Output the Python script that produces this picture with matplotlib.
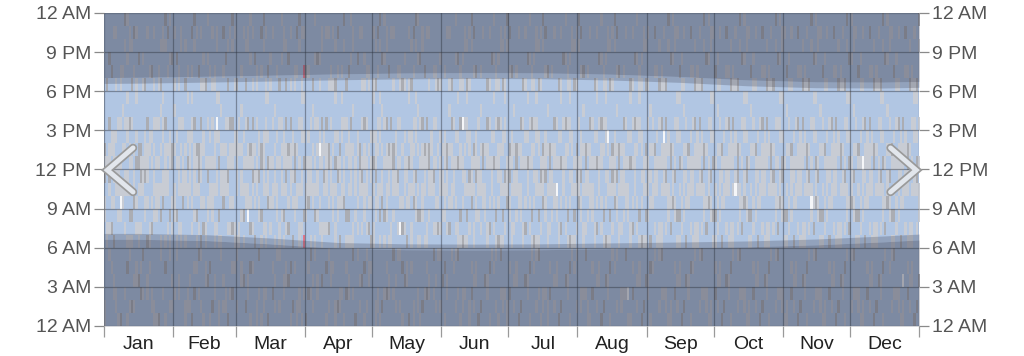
import numpy as np
import matplotlib.pyplot as plt
from matplotlib.colors import to_rgba

plt.rcParams['font.family'] = ['Liberation Sans', 'DejaVu Sans']

months = ['Jan', 'Feb', 'Mar', 'Apr', 'May', 'Jun', 'Jul', 'Aug', 'Sep', 'Oct', 'Nov', 'Dec']
month_starts = [0, 31, 59, 90, 120, 151, 181, 212, 243, 273, 304, 334, 365]
hour_ticks = [0, 3, 6, 9, 12, 15, 18, 21, 24]
hour_labels = ['12 AM', '3 AM', '6 AM', '9 AM', '12 PM', '3 PM', '6 PM', '9 PM', '12 AM']

# daylight / twilight edges (hours) read at these days of year
sun_days = [0, 15, 46, 74, 105, 135, 166, 196, 227, 258, 288, 319, 349, 365]
dawn = [6.65, 6.65, 6.55, 6.3, 5.95, 5.85, 5.83, 5.85, 5.92, 6.0, 6.07, 6.22, 6.45, 6.6]
sunrise = [7.1, 7.1, 7.0, 6.75, 6.4, 6.3, 6.28, 6.3, 6.37, 6.44, 6.52, 6.67, 6.9, 7.05]
sunset = [18.6, 18.62, 18.7, 18.78, 18.88, 18.95, 18.98, 18.96, 18.86, 18.68, 18.42, 18.27, 18.25, 18.3]
dusk = [19.05, 19.07, 19.15, 19.23, 19.33, 19.4, 19.43, 19.41, 19.31, 19.13, 18.87, 18.72, 18.7, 18.75]

# hourly cloud cover, one string per day; groups = hours 0-5, 6-11, 12-17, 18-23
# . clear, l light, m medium, d dark, w white, r rain
cloud_days = [
    # Jan
    "ll.... ..ll.m lm.... ......", "...... ll.... l..... m.....", ".....l .l..lm ll.m.. ..m...",
    "....l. .m.l.. .ll... .m....", "..ll.. m..l.l lll... ....l.", ".ll... ....ll l.l... l...l.",
    "l..... ..l.ll l..l.. ......", "m..... ..lwl. l..l.. ll....", "...... ...ll. .l..l. .l....",
    "..l... .l..ll .l.l.. ...l.m", "l...m. l...ll ..ll.l ..l..l", ".l...l l.m.l. ll.m.. ...ll.",
    ".m.... l.m... l..l.. m..l..", ".l.l.. ...mll .l.... .l..m.", "...ll. .l.l.. m.l..l l...l.",
    "...m.. ll..l. mm.... ..m...", "..m.l. .l..lm lm.... ......", "..l..m ....ll l..... l.l...",
    "...... ..ll.m lll... m.....", "..ll.. m..l.l ll.m.. ....l.", "....l. ll.... .ll... .l....",
    ".ll... .m.l.. l.l... .m....", "ll.... ..l.ll .l.l.. l...l.", "l..... ..lll. l..l.. ......",
    "m..... ...ll. l..l.. ll....", ".....l l.m.l. .l..l. m..l..", "..l... ...mll ..ll.l ...ll.",
    "l...m. l...ll ll.m.. ...l.m", "...... .l..ll .l.... .l..m.", ".l...l l.m... lll... ..l..l",
    ".l.l.. .l.l.. mm.... ..m...",
    # Feb
    "..l... ..lll. .l..l. l...l.", ".....l l.m... l.l... ..m...", "..ll.. .l..ll l..l.. ll....",
    "...... ll..l. .l.l.. ...ll.", "...... ...mll l..l.. ......", "ll.... l...ll .l.... m..l..",
    ".ll... ...ll. m.l..l .l....", ".l.l.. ....ll lll... ......", "m..... .l.l.. ..ll.l .l..m.",
    "..m.l. ..l.ll ll.m.. ...l.m", "....l. l.m.l. lm.... ....l.", "..l..m .l..lm mm.... .m....",
    ".l...l m..l.l ll.m.. l...l.", "l..... .m.l.. .ll... l.l...", "...ll. ll.... l..... m.....",
    "...m.. ..ll.m l..l.. ..l..l", "l...m. ...ll. l.l... .l....", ".m.... ..lll. l..l.. l...l.",
    "..ll.. ll..l. lll... ll....", "...... .l..ll ..lw.l ...ll.", "ll.... l.m... m.l..l ......",
    ".....l l...ll .l..l. ......", ".l.l.. ...mll .l.... .l..m.", ".ll... ....ll .l.l.. ..m...",
    "m..... .l..lm l..l.. m..l..", "..l... .l.l.. ll.m.. ....l.", "..m.l. .m.l.. ll.m.. ...l.m",
    "....l. ll.... .ll... l...l.",
    # Mar
    ".l...l l...ll lll... m.....", "...... ll.... .l.l.. ......", "...ll. ..l.ll .l..l. .l....",
    "...m.. l.m.l. l.l... ....l.", ".m.... ...ll. l..l.. m..l..", "..ll.. ..wll. ll.m.. ...ll.",
    "l...m. .m.l.. lm.... ..l..l", "....l. .l..lm ll.m.. l...l.", "...... m..l.l .l.... ..m...",
    "ll.... ....ll l..l.. ll....", "..l..m ..ll.m .ll... ......", "l..... l.m... mm.... .l..m.",
    ".ll... .l..ll lll... ...l.m", "..l... ll..l. ..ll.l l...l.", "m..... ...mll m.l..l .m....",
    "...... .l.l.. l..... l.l...", "..m.l. ...ll. l..l.. ....l.", ".l.l.. l...ll .l..l. ......",
    ".....l ..lll. l.l... .l....", ".l...l ll.... l..l.. m.....", "...... ..l.ll .l.l.. ..l..l",
    "..ll.. l.m.l. lll... ...ll.", "...ll. .l..lm ll.m.. m..l..", "...m.. .m.l.. lm.... ..m...",
    "l...m. ....ll ll.m.. l...l.", ".m.... m..l.l .ll... ......", "....l. ..ll.m mm.... ll....",
    "ll.... ...ll. .l.... .l..m.", ".ll... ll..l. l..l.. ...l.m", "l..... .l..ll ..ll.l l...l.",
    "..l... r.m... m.l..l .r..l.",
    # Apr
    "m..... ..lll. l..... .m....", "..m.l. ...mll l.l... .l....", "..l..m l...ll l..l.. ......",
    ".l.l.. ...ll. .l..l. m.....", ".....l l.m.l. l..l.. ..l..l", "..ll.. ..l.ll .l.l.. ..m...",
    "...... .l.l.. lwl... l.l...", "...m.. ll.... ll.m.. ...ll.", "...... .l..lm .ll... ......",
    "l...m. .l..ll ll.m.. ....l.", ".l...l .m.l.. mm.... l...l.", "...ll. ....ll l..l.. ll....",
    "....l. ..lll. .l.... l...l.", "ll.... ll..l. m.l..l m..l..", ".m.... ..ll.m l.l... .l..m.",
    ".ll... m..l.l lm.... ......", "..l... ...ll. ..ll.l .l....", "l..... ...mll l..l.. ...l.m",
    "..m.l. l.m... .l.l.. m.....", "..ll.. l.m.l. lll... .m....", "...... l...ll ll.m.. ..l..l",
    "..l..m ll.... .l..l. ...ll.", "m..... ..l.ll l..... ......", ".....l .l.l.. .ll... ..m...",
    ".l.l.. ....ll mm.... ....l.", "...m.. .l..lm l..l.. l...l.", "l...m. ..lll. ll.m.. l.l...",
    ".l...l .l..ll l..l.. .l....", "...ll. .m.l.. .l.... ll....", "....l. m..l.l l.l... ......",
    # May
    "...... ll..l. m.l..l l...l.", "ll.... ..ll.m lll... m..l..", ".ll... ...ll. .l.l.. .l..m.",
    "l..... l.m.l. ..ll.l ...l.m", ".m.... ...mll .l..l. ..m...", "..l... l.m... l..l.. ..l..l",
    "..m.l. ..lll. ll.m.. ...ll.", "..ll.. l...ll lm.... .m....", "...... ll.... ll.m.. ....l.",
    "..l..m ..l.ll mm.... l...l.", ".l.l.. ....ll .ll... ......", ".....l .l..lm l..l.. .l....",
    ".l...l .w.l.. l..l.. ll....", "l...m. .m.l.. .l.... m.....", "...m.. .l..ll l.l... l.l...",
    "...ll. m..l.l l..... ......", "m..... ...ll. m.l..l l...l.", "....l. ll..l. lll... m..l..",
    "ll.... ...mll .l.l.. .l..m.", "...... ..ll.m ..ll.l ...l.m", ".ll... l.m.l. .l..l. ..l..l",
    "l..... l.m... l..l.. ..m...", ".m.... ..lll. ll.m.. ...ll.", "..l... l...ll lm.... .m....",
    "..m.l. ll.... ll.m.. ....l.", "..ll.. ..l.ll mm.... l...l.", "...... ....ll .ll... ......",
    "..l..m .l..lm l..l.. .l....", ".l.l.. .l.l.. l..l.. ll....", ".....l .m.l.. .l.... m.....",
    ".l...l .l..ll l.l... l.l...",
    # Jun
    "...m.. ..l.ll .l.... ......", "l...m. ..lll. lll... .l....", "..ll.. .l..ll mm.... ....l.",
    "...... .m.l.. .l..l. l...l.", ".....l ...ll. ll.m.. m.....", "....l. ....ll l..l.. ......",
    ".l...l .l.l.. l.l... ..l..l", "..l..m ll.... m.l..l ..m...", "l..... l.m... ll.m.. ll....",
    ".ll... m..l.l l..w.. l.l...", "..l... l...ll .l.l.. ...ll.", "...... l.m.l. ..ll.l m..l..",
    "ll.... .l..lm .ll... l...l.", "..m.l. ...mll l..... ...l.m", ".l.l.. ll..l. lm.... .l..m.",
    "...ll. ..ll.m lll... .m....", "m..... ..l.ll l..l.. ......", ".m.... .l..ll .l..l. .l....",
    "...... ...ll. mm.... ....l.", "...m.. ..lll. .l.... ......", "..ll.. ll.... ll.m.. m.....",
    "l...m. .m.l.. l..l.. l...l.", ".....l ....ll l.l... ..m...", "....l. .l.l.. m.l..l ..l..l",
    ".l...l l.m... l..l.. ll....", "l..... m..l.l ll.m.. l.l...", "..l..m l...ll .l.l.. ...ll.",
    ".ll... l.m.l. .ll... m..l..", "..l... .l..lm ..ll.l l...l.", "ll.... ...mll l..... ...l.m",
    # Jul
    "..m.l. ..ll.m lm.... .l..m.", "...... ll..l. lll... .m....", ".l.l.. .l..ll .l..l. ......",
    "...ll. ..l.ll mm.... .l....", "m..... ...ll. .l.... ....l.", ".m.... ..lll. ll.m.. ......",
    "...... ll.... l..l.. m.....", "...m.. .m.l.. l.l... l...l.", "..ll.. ....ll m.l..l ..m...",
    "l...m. .l.l.. l..l.. ..l..l", ".....l l.m... ll.m.. ll....", "....l. m..l.l .l.l.. l.l...",
    ".l...l l...ll ..ll.l ...ll.", "..l..m l.m.l. .ll... m..l..", "l..... .l..lm l..... l...l.",
    ".ll... ...mll lm.... ...l.m", "..l... ..ll.m lll... .l..m.", "ll.... ll..l. .l..l. .m....",
    "..m.l. .l..ll mm.... ......", "...... ..l.ll .l.... .l....", ".l.l.. ...ll. ll.m.. ....l.",
    "...ll. ..llw. l..l.. ......", "m..... ll.... l.l... m.....", ".m.... .m.l.. m.l..l l...l.",
    "...... ....ll l..l.. ..m...", "...m.. .l.l.. ll.m.. ..l..l", "..ll.. l.m... .l.l.. ll....",
    "l...m. m..l.l ..ll.l l.l...", ".....l l...ll .ll... ...ll.", "....l. l.m.l. l..... m..l..",
    ".l...l .l..lm lm.... l...l.",
    # Aug
    "...... ...mll l..l.. ...l.m", ".ll... ..ll.m lll... .l..m.", "..l... ll..l. .l..l. .m....",
    "..l..m .l..ll mm.... ......", "ll.... ..l.ll .l.... .l....", "l..... ...ll. ll.m.. ....l.",
    "..m.l. ..lll. l..l.. ......", "...... ll.... l.l... m.....", ".l.l.. .m.l.. m.l..l l...l.",
    "...ll. ....ll l..l.. ..m...", "m..... .l.l.. ll.m.. ..l..l", ".m.... l.m... .l.l.. ll....",
    "...m.. m..l.l ..ll.l l.l...", "..ll.. l...ll .lw... ...ll.", "l...m. l.m.l. l..... m..l..",
    ".....l .l..lm lm.... l...l.", "....l. ...mll lll... ...l.m", ".l...l ..ll.m .l..l. .l..m.",
    "...... ll..l. mm.... .m....", ".ll... .l..ll .l.... ......", "..l... ..l.ll ll.m.. .l....",
    "..l..m ...ll. l..l.. ....l.", "l.w... ..lll. l.l... ......", "l..... ll.... m.l..l m.....",
    "..m.l. .m.l.. l..l.. l...l.", "...... ....ll ll.m.. ..m...", ".l.l.. .l.l.. .l.l.. ..l..l",
    "...ll. l.m... ..ll.l ll....", "m..... m..l.l .ll... l.l...", ".m.... l...ll l..... ...ll.",
    "...m.. l.m.l. lm.... m..l..",
    # Sep
    "..ll.. ..l.ll l..l.. l...l.", "l...m. m..l.l .l..l. ......", "....l. ...ll. .l.l.. ......",
    ".....l .l..ll lm.... .l..m.", "...... l...ll l.l... .l....", ".l...l ll.... l..l.. m..l..",
    "..l..m ll..l. ll.m.. ll....", "..l... ....ll llw... l...l.", ".ll... .l..lm ll.m.. m.....",
    "l..... ..lll. .ll... ...l.m", "ll.... .m.l.. mm.... ..m...", "...... ...mll .l.... ..l..l",
    "..m.l. ..ll.m l..l.. ...ll.", ".l.l.. l.m... ..ll.l ....l.", "...ll. l.m.l. m.l..l .m....",
    "m..... .l.l.. l..... l.l...", ".m.... ..l.ll .l..l. l...l.", "...m.. m..l.l .l.l.. ......",
    "..ll.. ...ll. lm.... ......", "l...m. .l..ll l.l... .l..m.", "....l. l...ll l..l.. .l....",
    ".....l ll.... ll.m.. m..l..", "...... ll..l. lll... ll....", ".l...l ....ll ll.m.. l...l.",
    "..l..m .l..lm .ll... m.....", "..l... ..lll. mm.... ...l.m", ".ll... .m.l.. .l.... ..m...",
    "l..... ...mll l..l.. ..l..l", "ll.... ..ll.m ..ll.l ...ll.", "...... l.m... m.l..l ....l.",
    # Oct
    "..m.l. l.m.l. l..... .m....", ".l.l.. .l.l.. .l..l. l.l...", "...ll. ..l.ll .l.l.. l...l.",
    "m..... m..l.l lm.... ......", ".m.... ...ll. l.l... ......", "...m.. .l..ll l..l.. .l..m.",
    "..ll.. l...ll ll.m.. .l....", "l...m. ll.... lll... m..l..", ".....l ll..l. ll.m.. ll....",
    "...... ....wl .ll... l...l.", ".l...l .l..lm mm.... m.....", "..l..m ..lll. .l.... ...l.m",
    "..l... .m.l.. l..l.. ..m...", ".ll... ...mll ..ll.l ..l..l", "l..... ..ll.m m.l..l ...ll.",
    "ll.... l.m... l..... ....l.", "...... l.m.l. .l..l. .m....", "..m.l. .l.l.. .l.l.. l.l...",
    ".l.l.. ..l.ll lm.... l...l.", "...ll. m..l.l l.l... ......", "m..... ...ll. l..l.. ......",
    ".m.... .l..ll ll.m.. .l..m.", "...m.. l...ll lll... .l....", "..ll.. ll.... ll.m.. m..l..",
    "l...m. ll..l. .ll... ll....", ".....l ....ll mm.... l...l.", "...... .l..lm .l.... m.....",
    ".l...l ..lll. l..l.. ...l.m", "..l..m .m.l.. l..l.. ..m...", "..l... ...mll ..ll.l ..l..l",
    ".ll... ..ll.m m.l..l ...ll.",
    # Nov
    "l..... l.m... l..... ....l.", "ll.... l.m.l. .l..l. .m....", "...... .l.l.. .l.l.. l.l...",
    "..m.l. ..l.ll lm.... l...l.", ".l.l.. m..l.l l.l... ......", "...ll. ...ll. l..l.. ......",
    "m..... .l..ll ll.m.. .l..m.", ".m.... l...ll lll... .l....", "...m.. ll.... ll.m.. m..l..",
    "..ll.. ll..l. .ll... ll....", "l...m. ....ll mm.... l...l.", ".....l .l..lm .l.... m.....",
    "...... ..lwl. l..l.. ...l.m", ".l...l .m.l.. ..ll.l ..m...", "..l..m ...mll m.l..l ..l..l",
    "..l... ..ll.m l..... ...ll.", ".ll... l.m... .l..l. ....l.", "l..... l.m.l. .l.l.. .m....",
    "ll.... .l.l.. lm.... l.l...", "...... ..l.ll l.l... l...l.", "..m.l. m..l.l l..l.. ......",
    ".l.l.. ...ll. ll.m.. ......", "...ll. .l..ll lll... .l..m.", "m..... l...ll ll.m.. .l....",
    ".m.... ll.... .ll... m..l..", "...m.. ll..l. mm.... ll....", "..ll.. ....ll .l.... l...l.",
    "l...m. .l..lm l..l.. m.....", ".....l ..lll. ..ll.l ...l.m", "...... .m.l.. m.l..l ..m...",
    # Dec
    ".l...l ...mll l..... ..l..l", "..l..m ..ll.m .l..l. ...ll.", "..l... l.m... .l.l.. ....l.",
    ".ll... l.m.l. lm.... .m....", "l..... .l.l.. l.l... l.l...", "ll.... ..l.ll w..l.. l...l.",
    "...... m..l.l ll.m.. ......", "..m.l. ...ll. lll... ......", ".l.l.. .l..ll ll.m.. .l..m.",
    "...ll. l...ll .ll... .l....", "m..... ll.... mm.... m..l..", ".m.... ll..l. .l.... ll....",
    "...m.. ....ll l..l.. l...l.", "..ll.. .l..lm ..ll.l m.....", "l...m. ..lll. m.l..l ...l.m",
    ".....l .m.l.. l..... ..m...", "...... ...mll .l..l. ..l..l", "....l. ..ll.m .l.l.. ...ll.",
    ".l...l l.m... lm.... ....l.", "..l..m l.m.l. l.l... .m....", "..l... .l.l.. l..l.. l.l...",
    ".ll... ..l.ll ll.m.. l...l.", "l..... m..l.l lll... ......", "ll.w.. ...ll. ll.m.. ......",
    "...... .l..ll .ll... .l..m.", "..m.l. l...ll mm.... .l....", ".l.l.. ll.... .l.... m..l..",
    "...ll. ll..l. l..l.. ll....", "m..... ....ll ..ll.l l...l.", ".m.... .l..lm m.l..l m.....",
    "...m.. ..lll. l..l.. ...l.m",
]

cloud_colors = {
    '.': (0, 0, 0, 0),
    'l': to_rgba('#c8ccd4'),
    'm': to_rgba('#abadb3'),
    'd': to_rgba('#95979d'),
    'w': to_rgba('#f5f6f8'),
    'r': to_rgba('#e0788c'),
}

day_color = '#b1c6e3'
shade = '#3c3e50'

img = np.zeros((24, len(cloud_days), 4))
for j, col in enumerate(cloud_days):
    col = ''.join(col.split()).ljust(24, '.')[:24]
    for i, ch in enumerate(col):
        img[i, j] = cloud_colors[ch]

fig = plt.figure(figsize=(10.24, 3.56), dpi=100)
ax = fig.add_axes([0.1016, 0.0843, 0.7959, 0.8792])
ax.set_facecolor(day_color)

ax.imshow(img, origin='lower', extent=[0, len(cloud_days), 0, 24],
          aspect='auto', interpolation='nearest', zorder=1)

# night and twilight shading on top of the clouds
ax.fill_between(sun_days, dusk, 24, color=shade, alpha=0.44, lw=0, zorder=2)
ax.fill_between(sun_days, 0, dawn, color=shade, alpha=0.44, lw=0, zorder=2)
ax.fill_between(sun_days, sunset, dusk, color=shade, alpha=0.26, lw=0, zorder=2)
ax.fill_between(sun_days, dawn, sunrise, color=shade, alpha=0.26, lw=0, zorder=2)

ax.set_xlim(0, 365)
ax.set_ylim(0, 24)

ax.set_yticks(hour_ticks)
ax.set_yticklabels(hour_labels)
ax.set_xticks(month_starts)
ax.set_xticklabels([])
mid = [(a + b) / 2 for a, b in zip(month_starts[:-1], month_starts[1:])]
ax.set_xticks(mid, minor=True)
ax.set_xticklabels(months, minor=True)

ax.set_axisbelow(False)
ax.grid(True, which='major', color='#2e3440', alpha=0.45, lw=0.9, zorder=3)

ax.tick_params(axis='y', which='major', left=True, right=True, labelleft=True, labelright=True,
               length=7, width=0.9, color='#8a8a8a', labelsize=14, labelcolor='#555555', pad=2)
ax.tick_params(axis='x', which='major', length=8, width=0.9, color='#9a9a9a')
ax.tick_params(axis='x', which='minor', length=0, labelsize=14, labelcolor='#222222', pad=7)

for s in ax.spines.values():
    s.set_visible(False)

# navigation chevrons
for xs in ([0.0356, 0.004, 0.0356], [0.965, 0.9965, 0.965]):
    ax.plot(xs, [0.569, 0.498, 0.428], transform=ax.transAxes, color='#9a9a9a', lw=6,
            solid_joinstyle='miter', solid_capstyle='round', zorder=5, clip_on=False)
    ax.plot(xs, [0.569, 0.498, 0.428], transform=ax.transAxes, color='#e2e6ec', lw=3.5,
            solid_joinstyle='miter', solid_capstyle='round', zorder=6, clip_on=False)

fig.savefig('out.png', dpi=100)
